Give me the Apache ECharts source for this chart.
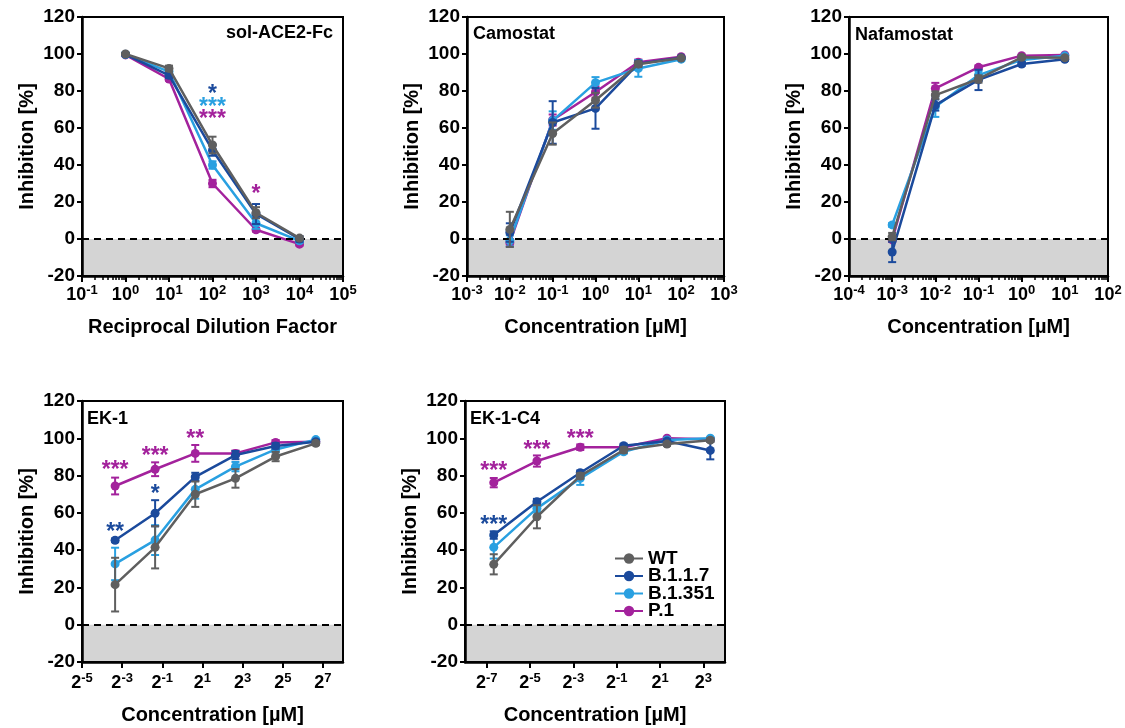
<!DOCTYPE html>
<html>
<head>
<meta charset="utf-8">
<title>Inhibition of SARS-CoV-2 variants</title>
<script src="https://cdn.jsdelivr.net/npm/echarts@6/dist/echarts.min.js"></script>
<style>
  html, body { margin: 0; padding: 0; background: #fff; }
  #main { width: 1125px; height: 728px; }
</style>
</head>
<body>
<div id="main"></div>
<script>
// variants, in legend order
var variants = ['WT', 'B.1.1.7', 'B.1.351', 'P.1'];
var variantColors = ['#5f5f5f', '#1b4a9c', '#29a0e1', '#a3229c'];
var drawOrder = [3, 2, 1, 0];   // P.1 at the bottom, WT on top

// sol-ACE2-Fc (reciprocal dilution)
var aceX = [1, 10, 100, 1000, 10000];
var aceMean = [
    [100, 92.2, 50.8, 14.2, 0.5],
    [99.8, 88.5, 48, 13.5, 0],
    [99.7, 90.5, 40, 8.5, -1],
    [99.5, 86.5, 30, 5, -2.8]
];
var aceSd = [
    [0.5, 1.5, 4.5, 3, 1],
    [0.5, 1.5, 3, 5.4, 1.5],
    [0.5, 1.5, 2, 3, 1],
    [0.5, 1, 2, 1, 0.8]
];
var aceStars = [[100, 81, '*', 1], [100, 74, '***', 2], [100, 68, '***', 3], [1000, 27, '*', 3]];
var aceTicks = [-1, 0, 1, 2, 3, 4, 5];

// Camostat [µM]
var camX = [0.01, 0.1, 1, 10, 100];
var camMean = [
    [5.2, 57, 75, 94.5, 97.8],
    [3.5, 63, 70.6, 94.8, 98],
    [-1, 64, 84.5, 92.2, 97.2],
    [-2, 64.3, 79.5, 95.5, 98.5]
];
var camSd = [
    [9.5, 6, 4, 1.5, 0.5],
    [5, 11.5, 11, 1.5, 0.5],
    [3, 5, 3, 4.5, 0.8],
    [2, 3, 3, 1.5, 0.5]
];
var camStars = [];
var camTicks = [-3, -2, -1, 0, 1, 2, 3];

// Nafamostat [µM]
var nafX = [0.001, 0.01, 0.1, 1, 10];
var nafMean = [
    [1.3, 77.8, 86.5, 98.2, 98],
    [-7, 72.4, 86, 94.6, 97.1],
    [7.6, 71.5, 88.6, 96.8, 99],
    [-0.5, 81.4, 92.8, 99.1, 99.5]
];
var nafSd = [
    [2, 2, 2, 1, 0.5],
    [5.5, 3, 5.5, 1, 0.8],
    [1, 5.5, 2, 1, 0.5],
    [1, 3, 1, 0.5, 0.5]
];
var nafStars = [];
var nafTicks = [-4, -3, -2, -1, 0, 1, 2];

// EK-1 [µM]
var ek1X = [0.098, 0.39, 1.56, 6.25, 25, 100];
var ek1Mean = [
    [21.5, 41.5, 70, 78.5, 90.2, 97.3],
    [45.3, 59.8, 79.3, 91, 95.9, 98.2],
    [32.6, 45.4, 72.6, 84.8, 94, 99.3],
    [74.4, 83.4, 91.9, 91.9, 97.8, 98.2]
];
var ek1Sd = [
    [14.4, 11.3, 6.8, 5, 2.5, 1],
    [1, 7, 2.2, 2.2, 1.5, 0.8],
    [8.7, 8, 5, 2.5, 1.5, 0.5],
    [4.5, 3.7, 4.5, 1.5, 1.2, 0.5]
];
var ek1Stars = [[0.098, 85.7, '***', 3], [0.39, 93.4, '***', 3], [1.56, 102.3, '**', 3],
                [0.098, 52.6, '**', 1], [0.39, 72.8, '*', 1]];
var ek1Ticks = [-5, -3, -1, 1, 3, 5, 7];

// EK-1-C4 [µM]
var c4X = [0.0098, 0.039, 0.156, 0.625, 2.5, 10];
var c4Mean = [
    [32.4, 57.9, 79.8, 93.7, 96.9, 99],
    [48.1, 66, 81.5, 96, 98.5, 93.5],
    [41.5, 62.4, 78.5, 92.8, 99.1, 100],
    [76.2, 87.8, 95.2, 95.2, 100, 99.5]
];
var c4Sd = [
    [5.4, 6.2, 1.5, 1.5, 1, 1],
    [2, 1.5, 1.2, 1, 1, 4.8],
    [6, 2, 3.5, 1, 0.8, 0.5],
    [2.5, 3, 1.5, 0.8, 0.5, 0.5]
];
var c4Stars = [[0.0098, 85.1, '***', 3], [0.039, 96.4, '***', 3], [0.156, 102.7, '***', 3],
               [0.0098, 56.5, '***', 1]];
var c4Ticks = [-7, -5, -3, -1, 1, 3];

var FONT = '"Liberation Sans", Arial, Helvetica, sans-serif';

var panels = [
    { title: 'sol-ACE2-Fc', x: aceX, mean: aceMean, sd: aceSd, stars: aceStars, ticks: aceTicks,
      base: 10, min: -1, max: 5, xName: 'Reciprocal Dilution Factor', nameGap: 41, labelMargin: 8,
      grid: { left: 82, top: 17, width: 261, height: 259 }, titlePos: { right: 792, top: 24 } },
    { title: 'Camostat', x: camX, mean: camMean, sd: camSd, stars: camStars, ticks: camTicks,
      base: 10, min: -3, max: 3, xName: 'Concentration [µM]', nameGap: 41, labelMargin: 8,
      grid: { left: 467, top: 17, width: 257, height: 259 }, titlePos: { left: 473, top: 25 } },
    { title: 'Nafamostat', x: nafX, mean: nafMean, sd: nafSd, stars: nafStars, ticks: nafTicks,
      base: 10, min: -4, max: 2, xName: 'Concentration [µM]', nameGap: 41, labelMargin: 8,
      grid: { left: 849, top: 17, width: 259, height: 259 }, titlePos: { left: 855, top: 26 } },
    { title: 'EK-1', x: ek1X, mean: ek1Mean, sd: ek1Sd, stars: ek1Stars, ticks: ek1Ticks,
      base: 2, min: -5, max: 8, xName: 'Concentration [µM]', nameGap: 43, labelMargin: 10,
      grid: { left: 82, top: 401, width: 261, height: 261 }, titlePos: { left: 87, top: 410 } },
    { title: 'EK-1-C4', x: c4X, mean: c4Mean, sd: c4Sd, stars: c4Stars, ticks: c4Ticks,
      base: 2, min: -8, max: 4, xName: 'Concentration [µM]', nameGap: 43, labelMargin: 10,
      grid: { left: 465, top: 401, width: 260, height: 261 }, titlePos: { left: 470, top: 410 } }
];

function expOf(base, v) {
    return base === 10 ? Math.log10(v) : Math.log2(v);
}

function minorTicks(min, max) {
    var out = [];
    for (var d = min; d < max; d++) {
        for (var k = 2; k <= 9; k++) out.push(d + Math.log10(k));
    }
    return out;
}

function errRenderer(color) {
    return function (params, api) {
        var x = api.value(0), m = api.value(1), s = api.value(2);
        var top = api.coord([x, m + s]);
        var bot = api.coord([x, m - s]);
        var w = 4;
        var st = { stroke: color, lineWidth: 2 };
        return {
            type: 'group',
            children: [
                { type: 'line', shape: { x1: top[0], y1: top[1], x2: bot[0], y2: bot[1] }, style: st },
                { type: 'line', shape: { x1: top[0] - w, y1: top[1], x2: top[0] + w, y2: top[1] }, style: st },
                { type: 'line', shape: { x1: bot[0] - w, y1: bot[1], x2: bot[0] + w, y2: bot[1] }, style: st }
            ]
        };
    };
}

function starRenderer(stars) {
    return function (params, api) {
        var s = stars[params.dataIndex];
        var p = api.coord([api.value(0), api.value(1)]);
        return {
            type: 'text',
            x: p[0],
            y: p[1] + 6,
            style: {
                text: s[2],
                fill: variantColors[s[3]],
                font: 'bold 23px ' + FONT,
                align: 'center',
                verticalAlign: 'middle'
            }
        };
    };
}

var grids = [], xAxes = [], yAxes = [], series = [], titles = [];

panels.forEach(function (p, i) {
    grids.push({
        left: p.grid.left, top: p.grid.top, width: p.grid.width, height: p.grid.height,
        show: true, borderColor: '#000', borderWidth: 2, backgroundColor: 'transparent', z: 10
    });

    var mainIdx = xAxes.length;
    var base = p.base;
    xAxes.push({
        gridIndex: i, type: 'value', min: p.min, max: p.max, position: 'bottom', z: 8,
        axisLine: { show: true, onZero: false, lineStyle: { color: '#000', width: 2.5 } },
        axisTick: { show: true, length: 6, customValues: p.ticks, lineStyle: { color: '#000', width: 2 } },
        axisLabel: {
            customValues: p.ticks,
            margin: p.labelMargin,
            formatter: function (v) { return '{b|' + base + '}{s|' + v + '}'; },
            rich: {
                b: { fontSize: 18, fontWeight: 'bold', color: '#000', lineHeight: 22, fontFamily: FONT },
                s: { fontSize: 13, fontWeight: 'bold', color: '#000', lineHeight: 12, verticalAlign: 'top', fontFamily: FONT }
            }
        },
        splitLine: { show: false },
        name: p.xName, nameLocation: 'middle', nameGap: p.nameGap,
        nameTextStyle: { fontSize: 20, fontWeight: 'bold', color: '#000', fontFamily: FONT }
    });
    if (base === 10) {
        xAxes.push({
            gridIndex: i, type: 'value', min: p.min, max: p.max, position: 'bottom', z: 8,
            axisLine: { show: false, onZero: false },
            axisTick: { show: true, length: 4, customValues: minorTicks(p.min, p.max), lineStyle: { color: '#000', width: 1.5 } },
            axisLabel: { show: false },
            splitLine: { show: false }
        });
    }

    yAxes.push({
        gridIndex: i, type: 'value', min: -20, max: 120, interval: 20, z: 8,
        axisLine: { show: true, onZero: false, lineStyle: { color: '#000', width: 2.5 } },
        axisTick: { show: true, length: 5, lineStyle: { color: '#000', width: 2 } },
        axisLabel: { fontSize: 19, fontWeight: 'bold', color: '#000', margin: 7, fontFamily: FONT },
        splitLine: { show: false },
        name: 'Inhibition [%]', nameLocation: 'middle', nameGap: 45,
        nameTextStyle: { fontSize: 20, fontWeight: 'bold', color: '#000', fontFamily: FONT }
    });

    // grey band below zero and dashed zero line
    series.push({
        type: 'line', xAxisIndex: mainIdx, yAxisIndex: i, data: [], z: 1, silent: true,
        markArea: { silent: true, itemStyle: { color: '#d4d4d4' }, data: [[{ yAxis: -20 }, { yAxis: 0 }]] },
        markLine: {
            silent: true, symbol: 'none', label: { show: false },
            lineStyle: { color: '#000', type: [7, 5], width: 2 },
            data: [{ yAxis: 0 }]
        }
    });

    drawOrder.forEach(function (v, k) {
        var color = variantColors[v];
        var pts = p.x.map(function (c, j) { return [expOf(base, c), p.mean[v][j]]; });
        var errs = p.x.map(function (c, j) { return [expOf(base, c), p.mean[v][j], p.sd[v][j]]; });
        series.push({
            name: variants[v], type: 'line', xAxisIndex: mainIdx, yAxisIndex: i, data: pts,
            symbol: 'circle', symbolSize: 9, showSymbol: true, z: 3 + k, silent: true,
            lineStyle: { color: color, width: 2.5 }, itemStyle: { color: color }
        });
        series.push({
            name: variants[v] + ' SD', type: 'custom', xAxisIndex: mainIdx, yAxisIndex: i, data: errs,
            renderItem: errRenderer(color), z: 3 + k, silent: true
        });
    });

    if (p.stars.length) {
        series.push({
            type: 'custom', xAxisIndex: mainIdx, yAxisIndex: i, z: 9, silent: true,
            data: p.stars.map(function (s) { return [expOf(base, s[0]), s[1]]; }),
            renderItem: starRenderer(p.stars)
        });
    }

    var t = { text: p.title, top: p.titlePos.top, padding: 0,
              textStyle: { fontSize: 18, fontWeight: 'bold', color: '#000', fontFamily: FONT } };
    if (p.titlePos.left != null) t.left = p.titlePos.left; else t.right = p.titlePos.right;
    titles.push(t);
});

var option = {
    animation: false,
    backgroundColor: '#fff',
    textStyle: { fontFamily: FONT },
    title: titles,
    legend: {
        data: variants, orient: 'vertical', left: 614, top: 549, padding: 0,
        itemWidth: 28, itemHeight: 13, itemGap: -1.5, selectedMode: false,
        textStyle: { fontSize: 19, fontWeight: 'bold', color: '#000', lineHeight: 17, fontFamily: FONT }
    },
    grid: grids,
    xAxis: xAxes,
    yAxis: yAxes,
    series: series
};

var myChart = echarts.init(document.getElementById('main'));
myChart.setOption(option);
</script>
</body>
</html>
